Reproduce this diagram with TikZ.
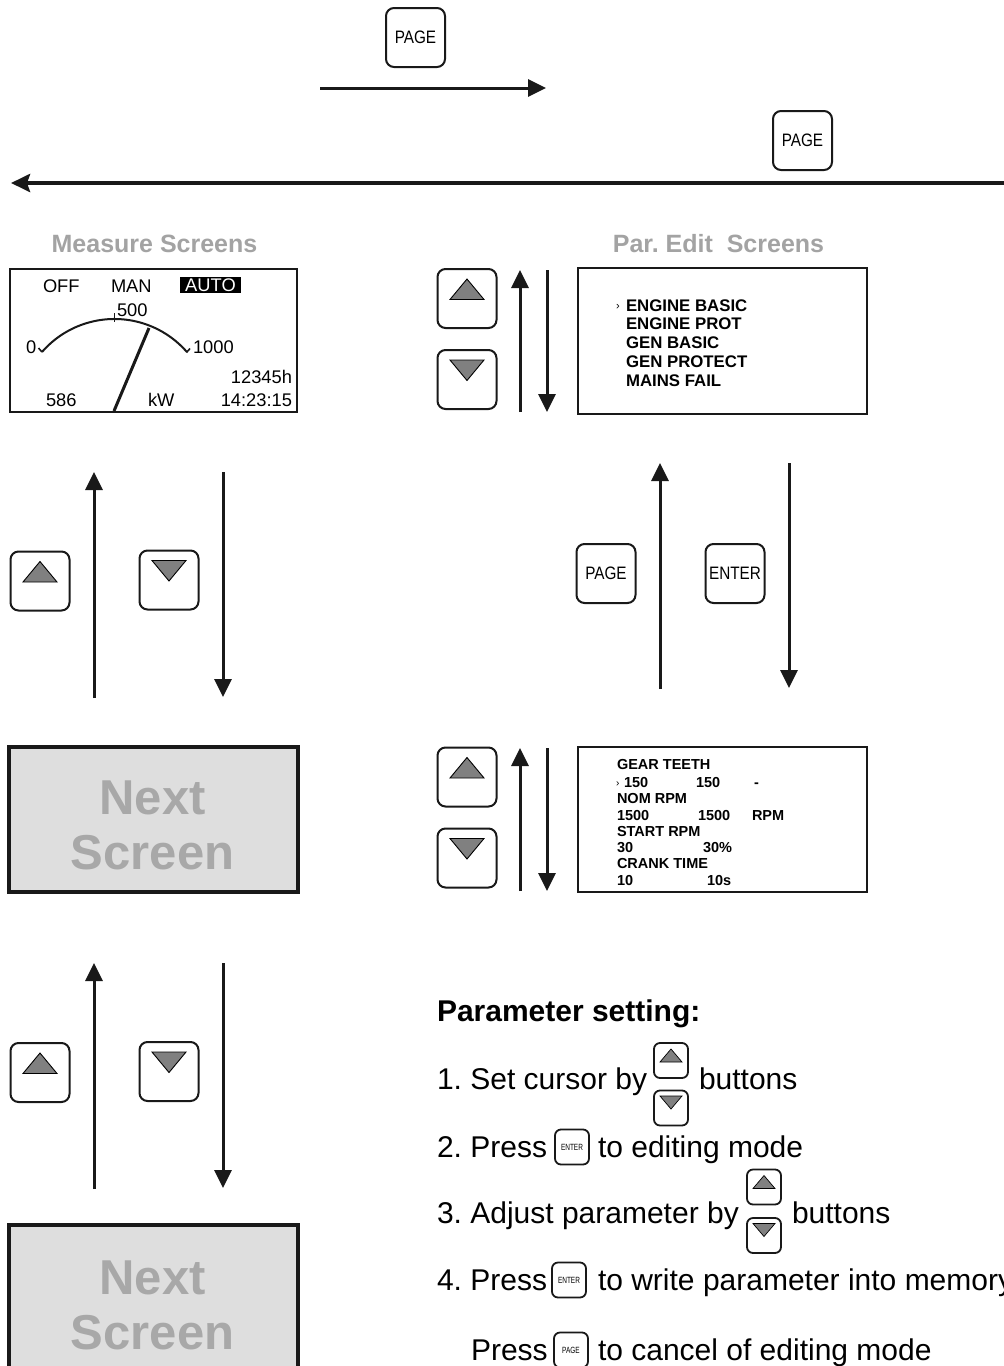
\documentclass[tikz,border=0pt]{standalone}
\usepackage{fontspec}
\setmainfont{Liberation Sans}
\newfontfamily\condfont[FakeStretch=0.85]{Liberation Sans}
\newfontfamily\tinyfont[FakeStretch=0.72]{Liberation Sans}
\usetikzlibrary{arrows.meta}
\definecolor{titlegray}{gray}{0.64}
\definecolor{nextgray}{gray}{0.66}
\definecolor{nextfill}{gray}{0.87}
\definecolor{trigray}{gray}{0.5}
\definecolor{ink}{gray}{0.1}
\tikzset{
  bigkey/.style={draw=ink, line width=2pt, rounded corners=8pt, minimum width=59pt, minimum height=59pt, inner sep=0pt},
  smallkey/.style={draw=ink, line width=1.8pt, rounded corners=6pt, minimum width=34pt, minimum height=35pt, inner sep=0pt},
  keytri/.style={draw=black, fill=trigray, line width=0.9pt, line join=miter},
  flow/.style={draw=ink, line width=3pt, -{Triangle[length=18pt,width=17pt]}},
  longflow/.style={draw=ink, line width=4pt, -{Stealth[length=19pt,width=18pt,inset=3pt]}},
  screen/.style={draw=ink, line width=2pt, inner sep=0pt},
  nextbox/.style={draw=ink, line width=4pt, fill=nextfill, inner sep=0pt},
  txt/.style={inner sep=0pt, outer sep=0pt},
  lcd/.style={txt, font=\fontsize{18.3}{20}\selectfont},
  par/.style={txt, font=\bfseries\fontsize{16.8}{18}\selectfont},
  gear/.style={txt, font=\bfseries\fontsize{14.5}{16}\selectfont},
  body/.style={txt, font=\fontsize{30}{34}\selectfont},
  nexttxt/.style={txt, text=nextgray, font=\bfseries\fontsize{49}{52}\selectfont},
  titletxt/.style={txt, text=titlegray, font=\bfseries\fontsize{25}{28}\selectfont},
}
\newcommand\keyup[3]{%
  \node[bigkey] (#1) at (#2,#3) {};
  \draw[keytri] (#1.center) ++(-17,1) -- ++(34,0) -- ++(-17,-20.5) -- cycle;}
\newcommand\keydown[3]{%
  \node[bigkey] (#1) at (#2,#3) {};
  \draw[keytri] (#1.center) ++(-17,-19.5) -- ++(34,0) -- ++(-17,20.5) -- cycle;}
\newcommand\skeyup[3]{%
  \node[smallkey] (#1) at (#2,#3) {};
  \draw[keytri, line width=0.7pt] (#1.center) ++(-11,1.5) -- ++(22,0) -- ++(-11,-13) -- cycle;}
\newcommand\skeydown[3]{%
  \node[smallkey] (#1) at (#2,#3) {};
  \draw[keytri, line width=0.7pt] (#1.center) ++(-11,-12) -- ++(22,0) -- ++(-11,13) -- cycle;}
\frenchspacing
\begin{document}
\begin{tikzpicture}[x=1pt, y=-1pt]
\useasboundingbox (0,0) rectangle (1004,1366);
\fill[white] (0,0) rectangle (1004,1366);

% ---- top PAGE keys and arrows
\node[bigkey, font=\condfont\fontsize{18}{18}\selectfont] (pg1) at (415.5,37.5) {PAGE};
\node[bigkey, font=\condfont\fontsize{18}{18}\selectfont] (pg2) at (802.5,140.5) {PAGE};
\coordinate (a1s) at (320,88); \coordinate (a1e) at (546,88);
\draw[flow] (a1s) -- (a1e);
\coordinate (a2s) at (1012,183); \coordinate (a2e) at (11,183);
\draw[longflow] (a2s) -- (a2e);

% ---- titles
\node[titletxt, anchor=base] (t1) at (154.5,252.5) {Measure Screens};
\node[titletxt, anchor=base] (t2) at (718.5,252.5) {Par. Edit\ \ Screens};

% ---- measure screen
\node[screen, minimum width=287pt, minimum height=143pt] (ms) at (153.5,340.5) {};
\node[lcd, anchor=base west] (off) at (43,292.5) {OFF};
\node[lcd, anchor=base west] (man) at (111,292.5) {MAN};
\node[lcd, fill=black, text=white, inner xsep=5pt, inner ysep=1.5pt, text height=13.1pt, text depth=0pt] (auto) at (210.5,285) {AUTO};
\node[lcd, anchor=base west] (v500) at (117,316.5) {500};
\node[lcd, anchor=base west] (v0) at (26,353.5) {0};
\node[lcd, anchor=base west] (v1000) at (193,353.5) {1000};
\node[lcd, anchor=base east] (hrs) at (292,383.5) {12345h};
\node[lcd, anchor=base east] (clk) at (292,406.5) {14:23:15};
\node[lcd, anchor=base west] (v586) at (46,406.5) {586};
\node[lcd, anchor=base west] (kw) at (148,406.5) {kW};
\draw[ink, line width=2pt] (42,352) arc[start angle=-139, end angle=-41, radius=96];
\draw[ink, line width=1.6pt] (38.5,348) -- (42,352);
\draw[ink, line width=1.6pt] (190,348.5) -- (186.5,352.5);
\draw[ink, line width=1.5pt] (114.5,313) -- (114.5,322);
\draw[ink, line width=3pt] (114,411) -- (149,328);

% ---- left column
\keyup{lu1}{40}{581}
\keydown{ld1}{169}{580}
\coordinate (l1a) at (94,698); \coordinate (l1b) at (94,472);
\draw[flow] (l1a) -- (l1b);
\coordinate (l1c) at (223,472); \coordinate (l1d) at (223,697);
\draw[flow] (l1c) -- (l1d);
\node[nextbox, minimum width=289pt, minimum height=145pt] (nx1) at (153.5,819.5) {};
\node[nexttxt, anchor=base] (nx1a) at (152.5,814.5) {Next};
\node[nexttxt, anchor=base] (nx1b) at (152.5,869.5) {Screen};

\keyup{lu2}{40}{1072.5}
\keydown{ld2}{169}{1071.5}
\coordinate (l2a) at (94,1189); \coordinate (l2b) at (94,963);
\draw[flow] (l2a) -- (l2b);
\coordinate (l2c) at (223,963); \coordinate (l2d) at (223,1188);
\draw[flow] (l2c) -- (l2d);
\node[nextbox, minimum width=289pt, minimum height=145pt] (nx2) at (153.5,1297.5) {};
\node[nexttxt, anchor=base] (nx2a) at (152.5,1294.5) {Next};
\node[nexttxt, anchor=base] (nx2b) at (152.5,1349.5) {Screen};

% ---- par edit screen
\keyup{pu1}{467}{298.5}
\keydown{pd1}{467}{379.5}
\coordinate (p1a) at (520,412); \coordinate (p1b) at (520,270);
\draw[flow] (p1a) -- (p1b);
\coordinate (p1c) at (547,270); \coordinate (p1d) at (547,412);
\draw[flow] (p1c) -- (p1d);
\node[screen, minimum width=289pt, minimum height=146pt] (pe) at (722.5,341) {};
\node[txt, anchor=base west, font=\fontsize{11}{11}\selectfont] (cur1) at (616,309) {›};
\node[par, anchor=base west] (m1) at (626,311) {ENGINE BASIC};
\node[par, anchor=base west] (m2) at (626,329.75) {ENGINE PROT};
\node[par, anchor=base west] (m3) at (626,348.5) {GEN BASIC};
\node[par, anchor=base west] (m4) at (626,367.25) {GEN PROTECT};
\node[par, anchor=base west] (m5) at (626,386) {MAINS FAIL};

% ---- PAGE / ENTER between
\coordinate (m1a) at (660,689); \coordinate (m1b) at (660,463);
\draw[flow] (m1a) -- (m1b);
\coordinate (m1c) at (789,463); \coordinate (m1d) at (789,688);
\draw[flow] (m1c) -- (m1d);
\node[bigkey, font=\condfont\fontsize{18}{18}\selectfont] (pg3) at (606,573.5) {PAGE};
\node[bigkey, font=\condfont\fontsize{18}{18}\selectfont] (ent) at (735,573.5) {ENTER};

% ---- gear teeth screen
\keyup{pu2}{467}{777}
\keydown{pd2}{467}{858}
\coordinate (p2a) at (520,891); \coordinate (p2b) at (520,748);
\draw[flow] (p2a) -- (p2b);
\coordinate (p2c) at (547,748); \coordinate (p2d) at (547,891);
\draw[flow] (p2c) -- (p2d);
\node[screen, minimum width=289pt, minimum height=145pt] (gt) at (722.5,819.5) {};
\node[gear, anchor=base west] (g1) at (617,769) {GEAR TEETH};
\node[txt, anchor=base west, font=\fontsize{10}{10}\selectfont] (cur2) at (616,786) {›};
\node[gear, anchor=base west] (g2a) at (624,787) {150};
\node[gear, anchor=base west] (g2b) at (696,787) {150};
\node[gear, anchor=base west] (g2c) at (754,787) {-};
\node[gear, anchor=base west] (g3) at (617,803) {NOM RPM};
\node[gear, anchor=base west] (g4a) at (617,820) {1500};
\node[gear, anchor=base west] (g4b) at (698,820) {1500};
\node[gear, anchor=base west] (g4c) at (752,820) {RPM};
\node[gear, anchor=base west] (g5) at (617,836) {START RPM};
\node[gear, anchor=base west] (g6a) at (617,852) {30};
\node[gear, anchor=base west] (g6b) at (703,852) {30\%};
\node[gear, anchor=base west] (g7) at (617,868) {CRANK TIME};
\node[gear, anchor=base west] (g8a) at (617,885) {10};
\node[gear, anchor=base west] (g8b) at (707,885) {10s};

% ---- parameter setting text
\node[body, anchor=base west, font=\bfseries\fontsize{30}{34}\selectfont] (hd) at (437,1021) {Parameter setting:};
\node[body, anchor=base west] (s1) at (437,1089) {1. Set cursor by};
\skeyup{s1u}{671}{1060.5}
\skeydown{s1d}{671}{1108}
\node[body, anchor=base west] (s1b) at (699,1089) {buttons};
\node[body, anchor=base west] (s2) at (437,1157) {2. Press};
\node[smallkey, font=\tinyfont\fontsize{9}{9}\selectfont] (s2k) at (572,1147) {ENTER};
\node[body, anchor=base west] (s2b) at (598,1157) {to editing mode};
\node[body, anchor=base west] (s3) at (437,1223) {3. Adjust parameter by};
\skeyup{s3u}{764}{1187}
\skeydown{s3d}{764}{1235.5}
\node[body, anchor=base west] (s3b) at (792,1223) {buttons};
\node[body, anchor=base west] (s4) at (437,1290) {4. Press};
\node[smallkey, font=\tinyfont\fontsize{9}{9}\selectfont] (s4k) at (569,1280) {ENTER};
\node[body, anchor=base west] (s4b) at (598,1290) {to write parameter into memory};
\node[body, anchor=base west] (s5) at (471,1360) {Press};
\node[smallkey, font=\tinyfont\fontsize{9}{9}\selectfont] (s5k) at (571,1350) {PAGE};
\node[body, anchor=base west] (s5b) at (598,1360) {to cancel of editing mode};
\end{tikzpicture}
\end{document}
